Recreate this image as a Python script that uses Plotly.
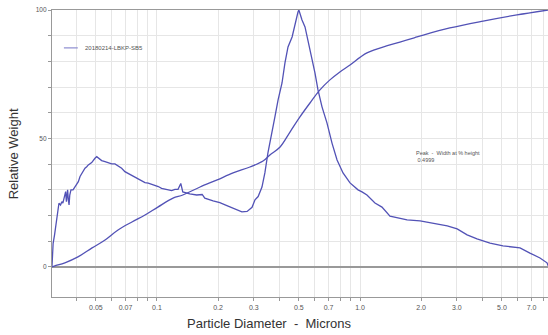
import plotly.graph_objects as go

# Relative weight distribution (diameter in microns, relative weight)
dist_x = [0.0304, 0.0306, 0.0308, 0.0313, 0.0317, 0.0322, 0.0327, 0.0329, 0.0335, 0.0340,
          0.0344, 0.0350, 0.0355, 0.0358, 0.0360, 0.0363, 0.0366, 0.0369, 0.0372, 0.0377,
          0.0386, 0.0395, 0.0402, 0.0410, 0.0418, 0.0426, 0.0434, 0.0442, 0.0451, 0.0459,
          0.0477, 0.0486, 0.0495, 0.0505, 0.0514, 0.0534, 0.0555, 0.0576, 0.0598, 0.0621,
          0.0645, 0.0670, 0.0695, 0.0722, 0.0750, 0.0779, 0.0809, 0.0841, 0.0873, 0.0906,
          0.0942, 0.0978, 0.1015, 0.1054, 0.1095, 0.1137, 0.1181, 0.1226, 0.127, 0.131,
          0.134, 0.145, 0.157, 0.167, 0.172, 0.189, 0.204, 0.221, 0.242, 0.262,
          0.278, 0.294, 0.304, 0.315, 0.329, 0.340, 0.352, 0.360, 0.369, 0.381,
          0.395, 0.413, 0.427, 0.442, 0.463, 0.479, 0.495, 0.4999, 0.518, 0.536,
          0.554, 0.580, 0.600, 0.621, 0.650, 0.688, 0.728, 0.771, 0.825, 0.893,
          0.978, 1.023, 1.082, 1.185, 1.283, 1.405, 1.521, 1.706, 1.977, 2.29,
          2.69, 3.01, 3.37, 3.77, 4.37, 5.06, 6.14, 6.87, 7.70, 8.34, 8.44]
dist_y = [0.1, 6.6, 9.2, 12.5, 15.7, 19.6, 22.8, 24.8, 24.1, 25.4,
          24.8, 27.4, 29.3, 25.4, 28.0, 30.0, 26.1, 24.1, 28.0, 30.0,
          30.0, 31.3, 32.6, 33.2, 35.2, 36.4, 37.1, 38.4, 39.0, 39.7,
          40.6, 41.6, 42.3, 42.9, 42.3, 41.4, 41.0, 40.6, 40.1, 40.1,
          39.3, 38.4, 37.1, 36.4, 35.4, 34.9, 34.1, 33.6, 32.8, 32.6,
          32.2, 31.9, 31.3, 30.6, 30.2, 30.0, 29.7, 30.2, 30.2, 32.5,
          29.2, 28.4, 28.0, 28.2, 26.8, 25.7, 25.0, 23.9, 22.4, 21.4,
          21.6, 23.2, 26.1, 27.4, 31.1, 36.6, 44.4, 48.0, 52.1, 58.4,
          65.0, 71.6, 79.4, 85.6, 89.5, 94.9, 99.2, 100.0, 96.1, 93.4,
          88.3, 81.7, 75.5, 68.9, 62.3, 56.0, 48.2, 41.6, 36.6, 32.7,
          30.0, 29.2, 28.0, 24.9, 23.3, 19.8, 19.1, 18.3, 17.9, 17.1,
          16.0, 14.8, 12.5, 10.9, 9.3, 8.2, 7.4, 5.4, 3.5, 1.6, 0.5]

# Cumulative curve
cum_x = [0.0304, 0.0314, 0.0352, 0.0408, 0.0479, 0.0555, 0.0643, 0.0753, 0.0873, 0.101,
         0.120, 0.134, 0.163, 0.198, 0.237, 0.287, 0.333, 0.360, 0.404, 0.452,
         0.506, 0.567, 0.635, 0.711, 0.796, 0.893, 1.082, 1.405, 1.91, 2.77,
         4.04, 5.93, 8.44]
cum_y = [0.0, 0.4, 1.6, 3.9, 7.4, 10.5, 14.4, 17.5, 20.2, 23.3,
         26.8, 28.0, 31.1, 33.9, 36.6, 38.9, 41.2, 43.6, 46.7, 52.5,
         58.4, 63.8, 68.9, 72.8, 75.9, 78.6, 83.3, 86.4, 89.5, 93.0,
         95.7, 98.1, 100.0]

x_tick_vals = [0.04, 0.05, 0.06, 0.07, 0.08, 0.09, 0.1, 0.2, 0.3, 0.4, 0.5, 0.6, 0.7, 0.8, 0.9,
               1.0, 2.0, 3.0, 4.0, 5.0, 6.0, 7.0, 8.0]
x_tick_text = ["", "0.05", "", "0.07", "", "", "0.1", "0.2", "0.3", "", "0.5", "", "0.7", "", "",
               "1.0", "2.0", "3.0", "", "5.0", "", "7.0", ""]
y_tick_vals = [0, 10, 20, 30, 40, 50, 60, 70, 80, 90, 100]
y_tick_text = ["0", "", "", "", "", "50", "", "", "", "", "100"]

series_name = "20180214-LBKP-SB5"
line_color = "#5252B6"

fig = go.Figure()
fig.add_trace(go.Scatter(x=dist_x, y=dist_y, mode="lines", name=series_name, showlegend=False,
                         line=dict(color=line_color, width=1.3)))
fig.add_trace(go.Scatter(x=cum_x, y=cum_y, mode="lines", name="cumulative", showlegend=False,
                         line=dict(color=line_color, width=1.3, shape="spline")))

fig.update_layout(
    width=548, height=335,
    margin=dict(l=52, r=0, t=10, b=38),
    paper_bgcolor="white", plot_bgcolor="white",
    font=dict(family="Liberation Sans, Arial, sans-serif", color="#444"),
    showlegend=False,
    shapes=[
        # legend sample line
        dict(type="line", xref="paper", yref="paper", x0=0.024, x1=0.052, y0=0.868, y1=0.868,
             line=dict(color="#8c8cd0", width=1.2)),
    ],
    annotations=[
        dict(text=series_name, xref="paper", yref="paper",
             x=0.062, y=0.868, xanchor="left", yanchor="middle", showarrow=False,
             font=dict(size=6, color="#555")),
        dict(text="Particle Diameter  -  Microns", xref="paper", yref="paper",
             x=0.4375, y=-0.06, xanchor="center", yanchor="top", showarrow=False,
             font=dict(size=13, color="#333")),
        dict(text="Relative Weight", xref="paper", yref="paper", textangle=-90,
             x=-0.077, y=0.5, xanchor="center", yanchor="middle", showarrow=False,
             font=dict(size=13, color="#333")),
        dict(text="Peak  -  Width at % height<br> 0.4999", xref="paper", yref="paper",
             x=0.73, y=0.52, xanchor="left", yanchor="top", showarrow=False, align="left",
             font=dict(size=5.5, color="#555")),
    ],
)
fig.update_xaxes(type="log", range=[-1.517, 0.926],
                 tickvals=x_tick_vals, ticktext=x_tick_text,
                 ticks="outside", ticklen=3, tickcolor="#999",
                 tickfont=dict(size=7, color="#555"),
                 showgrid=True, gridcolor="#e6e6e6", gridwidth=1,
                 showline=True, linecolor="#999", linewidth=1.2, mirror=True)
fig.update_yaxes(range=[-11.7, 100], tickvals=y_tick_vals, ticktext=y_tick_text,
                 ticks="outside", ticklen=3, tickcolor="#999",
                 tickfont=dict(size=6.5, color="#555"),
                 showgrid=True, gridcolor="#e6e6e6", gridwidth=1,
                 zeroline=True, zerolinecolor="#999", zerolinewidth=1.5,
                 showline=True, linecolor="#999", linewidth=1.2)

fig.write_html("out.html", config={"displayModeBar": False},
               post_script="document.body.style.margin='0';")
